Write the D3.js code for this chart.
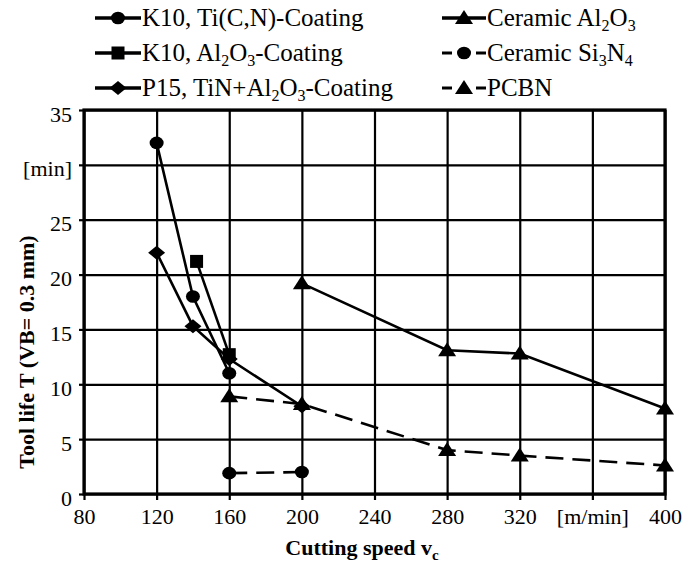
<!DOCTYPE html>
<html><head><meta charset="utf-8">
<script src="https://cdn.jsdelivr.net/npm/d3@7"></script>
<style>
html,body{margin:0;padding:0;background:#fff;}
svg{display:block;}
svg text{font-family:"Liberation Serif","Times New Roman",serif;}
</style></head>
<body><svg id="chart" width="682" height="567"></svg>
<script>
// ---- data ----
const speedTicks = [80,120,160,200,240,280,320,360,400];
const speedTickLabels = ["80","120","160","200","240","280","320","[m/min]","400"];
const lifeTicks = [0,5,10,15,20,25,30,35];
const lifeTickLabels = ["0","5","10","15","20","25","[min]","35"];

const k10TiCN_speed = [120,140,160];
const k10TiCN_life  = [32,18,11];
const k10Al2O3_speed = [142,160];
const k10Al2O3_life  = [21.2,12.7];
const p15_speed = [120,140,160,200];
const p15_life  = [22,15.3,12.3,8];
const ceramicAl2O3_speed = [200,280,320,400];
const ceramicAl2O3_life  = [19.2,13.1,12.8,7.8];
const ceramicSi3N4_speed = [160,200];
const ceramicSi3N4_life  = [1.9,2.0];
const pcbn_speed = [160,200,280,320,400];
const pcbn_life  = [8.9,8.2,4.0,3.5,2.6];

const seriesNames = [
  [["K10, Ti(C,N)-Coating"]],
  [["K10, Al"],["2","sub"],["O"],["3","sub"],["-Coating"]],
  [["P15, TiN+Al"],["2","sub"],["O"],["3","sub"],["-Coating"]],
  [["Ceramic Al"],["2","sub"],["O"],["3","sub"]],
  [["Ceramic Si"],["3","sub"],["N"],["4","sub"]],
  [["PCBN"]]
];

const series = [
  {speed:k10TiCN_speed, life:k10TiCN_life, marker:"circle", dashed:false, name:seriesNames[0]},
  {speed:k10Al2O3_speed, life:k10Al2O3_life, marker:"square", dashed:false, name:seriesNames[1]},
  {speed:p15_speed, life:p15_life, marker:"diamond", dashed:false, name:seriesNames[2]},
  {speed:ceramicAl2O3_speed, life:ceramicAl2O3_life, marker:"triangle", dashed:false, name:seriesNames[3]},
  {speed:ceramicSi3N4_speed, life:ceramicSi3N4_life, marker:"circle", dashed:true, name:seriesNames[4]},
  {speed:pcbn_speed, life:pcbn_life, marker:"triangle", dashed:true, name:seriesNames[5]}
];

// ---- layout ----
const FONT = "'Liberation Serif','Times New Roman',serif";
const L = 84, R = 665, T = 110, B = 494;
const svg = d3.select("#chart");
const x = d3.scaleLinear().domain([80,400]).range([L,R]);
const y = d3.scaleLinear().domain([0,35]).range([B,T]);

// grid
svg.append("g").attr("transform",`translate(0,${B})`)
  .call(d3.axisBottom(x).tickValues(speedTicks).tickSize(-(B-T)).tickSizeOuter(0).tickFormat(""))
  .call(g=>g.select(".domain").remove())
  .call(g=>g.selectAll("line").attr("stroke","#000").attr("stroke-width",2.2));
svg.append("g").attr("transform",`translate(${L},0)`)
  .call(d3.axisLeft(y).tickValues(lifeTicks).tickSize(-(R-L)).tickSizeOuter(0).tickFormat(""))
  .call(g=>g.select(".domain").remove())
  .call(g=>g.selectAll("line").attr("stroke","#000").attr("stroke-width",2.2));

// axes with outward ticks and labels
const xAxis = svg.append("g").attr("transform",`translate(0,${B})`)
  .call(d3.axisBottom(x).tickValues(speedTicks).tickSize(6).tickSizeOuter(0).tickPadding(12)
    .tickFormat((d,i)=>speedTickLabels[i]));
xAxis.attr("font-family",FONT).attr("font-size",22);
xAxis.select(".domain").remove();
xAxis.selectAll("line").attr("stroke","#000").attr("stroke-width",2.2);
xAxis.selectAll("text").attr("fill","#000").attr("dy","0.55em");

const yAxis = svg.append("g").attr("transform",`translate(${L},0)`)
  .call(d3.axisLeft(y).tickValues(lifeTicks).tickSize(5).tickSizeOuter(0).tickPadding(7)
    .tickFormat((d,i)=>lifeTickLabels[i]));
yAxis.attr("font-family",FONT).attr("font-size",22);
yAxis.select(".domain").remove();
yAxis.selectAll("line").attr("stroke","#000").attr("stroke-width",2.2);
yAxis.selectAll("text").attr("fill","#000").attr("dy","0.5em");

// frame
svg.append("rect").attr("x",L).attr("y",T).attr("width",R-L).attr("height",B-T)
  .attr("fill","none").attr("stroke","#000").attr("stroke-width",3.2);

// marker drawing
function drawMarker(g, type, cx, cy, scale){
  const s = scale||1;
  if(type==="circle"){
    g.append("ellipse").attr("cx",cx).attr("cy",cy).attr("rx",7*s).attr("ry",6.3*s).attr("fill","#000");
  } else if(type==="square"){
    g.append("rect").attr("x",cx-6.5*s).attr("y",cy-6.5*s).attr("width",13*s).attr("height",13*s).attr("fill","#000");
  } else if(type==="diamond"){
    g.append("path").attr("d",`M${cx-8.5*s},${cy}L${cx},${cy-7*s}L${cx+8.5*s},${cy}L${cx},${cy+7*s}Z`).attr("fill","#000");
  } else if(type==="triangle"){
    g.append("path").attr("d",`M${cx-9*s},${cy+6*s}L${cx},${cy-8*s}L${cx+9*s},${cy+6*s}Z`).attr("fill","#000");
  }
}

// lines
const line = d3.line().x(d=>x(d[0])).y(d=>y(d[1]));
const dataG = svg.append("g");
series.forEach(s=>{
  const pts = s.speed.map((v,i)=>[v,s.life[i]]);
  dataG.append("path").attr("d",line(pts)).attr("fill","none").attr("stroke","#000")
    .attr("stroke-width",2.6).attr("stroke-dasharray",s.dashed?"18,9":null);
});
series.forEach(s=>{
  s.speed.forEach((v,i)=>drawMarker(dataG, s.marker, x(v), y(s.life[i])));
});

// legend
const legendPos = [[95,18],[95,53],[95,88],[442,18],[442,53],[442,88]];
series.forEach((s,i)=>{
  const [lx,ly] = legendPos[i];
  const g = svg.append("g");
  const w = i<3 ? 46 : 44;
  if(s.dashed){
    g.append("line").attr("x1",lx).attr("x2",lx+10).attr("y1",ly).attr("y2",ly).attr("stroke","#000").attr("stroke-width",3);
    g.append("line").attr("x1",lx+w-10).attr("x2",lx+w).attr("y1",ly).attr("y2",ly).attr("stroke","#000").attr("stroke-width",3);
  } else {
    g.append("line").attr("x1",lx).attr("x2",lx+w).attr("y1",ly).attr("y2",ly).attr("stroke","#000").attr("stroke-width",3.5);
  }
  drawMarker(g, s.marker, lx+w/2, ly, 1);
  const t = g.append("text").attr("x",lx+w+1).attr("y",ly+8).attr("font-size",25)
    .attr("font-family",FONT).attr("fill","#000");
  s.name.forEach(part=>{
    const ts = t.append("tspan").text(part[0]);
    if(part[1]==="sub"){ ts.attr("font-size",16).attr("dy",5); }
    else if(t.selectAll("tspan").size()>1){ ts.attr("dy",-5); }
  });
});

// axis titles
svg.append("text").attr("transform","translate(34,352) rotate(-90)")
  .attr("text-anchor","middle").attr("font-size",22).attr("font-weight","bold")
  .attr("font-family",FONT).attr("fill","#000")
  .text("Tool life T (VB= 0.3 mm)");
const xt = svg.append("text").attr("x",362).attr("y",555).attr("text-anchor","middle")
  .attr("font-size",22).attr("font-weight","bold").attr("font-family",FONT).attr("fill","#000");
xt.append("tspan").text("Cutting speed v");
xt.append("tspan").text("c").attr("font-size",15).attr("dy",5);
</script></body></html>
